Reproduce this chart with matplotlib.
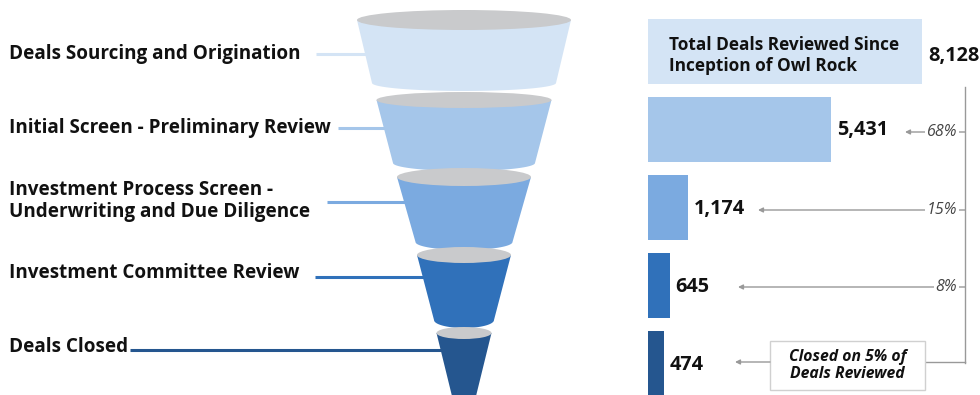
"""
funnel of deals reviewed -> closed, with bar chart of counts on the right
"""
import matplotlib
matplotlib.use("Agg")
import matplotlib.pyplot as plt
from matplotlib.patches import Polygon, Ellipse, Rectangle
import numpy as np

plt.rcParams['font.family'] = ['Open Sans', 'DejaVu Sans']

# data
stages = ["Deals Sourcing and Origination",
          "Initial Screen - Preliminary Review",
          "Investment Process Screen -\nUnderwriting and Due Diligence",
          "Investment Committee Review",
          "Deals Closed"]
deal_counts = [8128, 5431, 1174, 645, 474]
count_labels = ["8,128", "5,431", "1,174", "645", "474"]
pct_labels = ["68%", "15%", "8%"]
total_text = "Total Deals Reviewed Since\nInception of Owl Rock"
closed_text = "Closed on 5% of\nDeals Reviewed"

colors = ['#D4E4F5', '#A5C6EA', '#7BAAE0', '#3071BA', '#25568F']
gray_top = '#C9CACC'
line_gray = '#999999'

W, H = 980, 395
fig = plt.figure(figsize=(W / 100, H / 100), dpi=100)

# overlay axes in pixel units for the funnel and annotations
ax = fig.add_axes([0, 0, 1, 1])
ax.set_xlim(0, W)
ax.set_ylim(H, 0)
ax.axis('off')

# funnel geometry: top y, bottom y, top half width, bottom half width
cx = 464
funnel = [(20, 83, 107, 92), (100, 163, 87.5, 71), (177, 242, 67, 48.5),
          (255, 320, 47, 30), (333, 445, 27.5, 0)]
ry_top = [10, 8, 9, 8, 6]
ry_bot = 8
for (ty, by, tw, bw), rt, col in zip(funnel, ry_top, colors):
    t = np.linspace(np.pi, 0, 40)
    arc = np.column_stack([cx + bw * np.cos(t), by + ry_bot * np.sin(t) * (bw > 0)])
    pts = np.vstack([[cx - tw, ty], arc, [cx + tw, ty]])
    ax.add_patch(Polygon(pts, closed=True, facecolor=col, edgecolor='none', zorder=2))
    ax.add_patch(Ellipse((cx, ty), 2 * tw, 2 * rt, facecolor=gray_top, edgecolor='none', zorder=3))

# stage labels and leader lines
label_y = [54, 128, 201, 273, 347]
line_y = [54, 128, 202, 277, 350]
line_x = [(316, 366), (338, 386), (327, 405), (315, 424), (130, 445)]
for name, y, ly, (x0, x1), col in zip(stages, label_y, line_y, line_x, colors):
    ax.text(9, y, name, fontsize=13.6, fontweight='bold', color='#111111',
            va='center', ha='left', linespacing=1.1)
    ax.plot([x0, x1], [ly, ly], color=col, lw=2.2, solid_capstyle='butt', zorder=1)

# bar chart axes: x from 648px, 8128 -> 922px; rows of 78px starting at 12.5px
bar_left, bar_right = 648, 922
row = 78
top = 12.5
ax_bar = fig.add_axes([bar_left / W, 1 - (top + 5 * row) / H,
                       (bar_right - bar_left) / W, 5 * row / H])
ax_bar.set_xlim(0, deal_counts[0])
ax_bar.set_ylim(4.5, -0.5)
ax_bar.axis('off')
ypos = np.arange(len(deal_counts))
ax_bar.barh(ypos, deal_counts, height=65 / row, color=colors, zorder=2)

for i, (v, lab) in enumerate(zip(deal_counts, count_labels)):
    ax_bar.annotate(lab, (v, i), xytext=(6, -1 if i else -4), textcoords='offset pixels',
                    fontsize=14.3, fontweight='bold', color='#111111',
                    va='center', ha='left', annotation_clip=False)
ax_bar.annotate(total_text, (0, 0), xytext=(21, -4), textcoords='offset pixels',
                fontsize=12.4, fontweight='bold', color='#111111',
                va='center', ha='left', linespacing=1.15)

# bracket with arrows and percentages
bx = 965
ax.plot([bx, bx], [87, 363], color=line_gray, lw=1, zorder=1)
arrow_y = [132, 210, 287]
arrow_tip = [905, 758, 738]
for y, tip, p in zip(arrow_y, arrow_tip, pct_labels):
    ax.annotate('', xy=(tip, y), xytext=(bx, y),
                arrowprops=dict(arrowstyle='-|>', color=line_gray, lw=1,
                                mutation_scale=7, shrinkA=0, shrinkB=0))
    ax.text(957, y, p, fontsize=11.5, style='italic', color='#444444',
            va='center', ha='right',
            bbox=dict(boxstyle='square,pad=0.1', facecolor='white', edgecolor='none'))

# closed box
ax.plot([925, bx], [362, 362], color=line_gray, lw=1)
ax.add_patch(Rectangle((770, 341), 155, 49, facecolor='white',
                       edgecolor='#D0D0D0', lw=1, zorder=3))
ax.text(847.5, 365.5, closed_text, fontsize=11.3, fontweight='bold', style='italic',
        color='#111111', ha='center', va='center', linespacing=1.05, zorder=4)
ax.annotate('', xy=(735, 362), xytext=(770, 362),
            arrowprops=dict(arrowstyle='-|>', color=line_gray, lw=1,
                            mutation_scale=7, shrinkA=0, shrinkB=0))

fig.savefig('out.png', dpi=100)
